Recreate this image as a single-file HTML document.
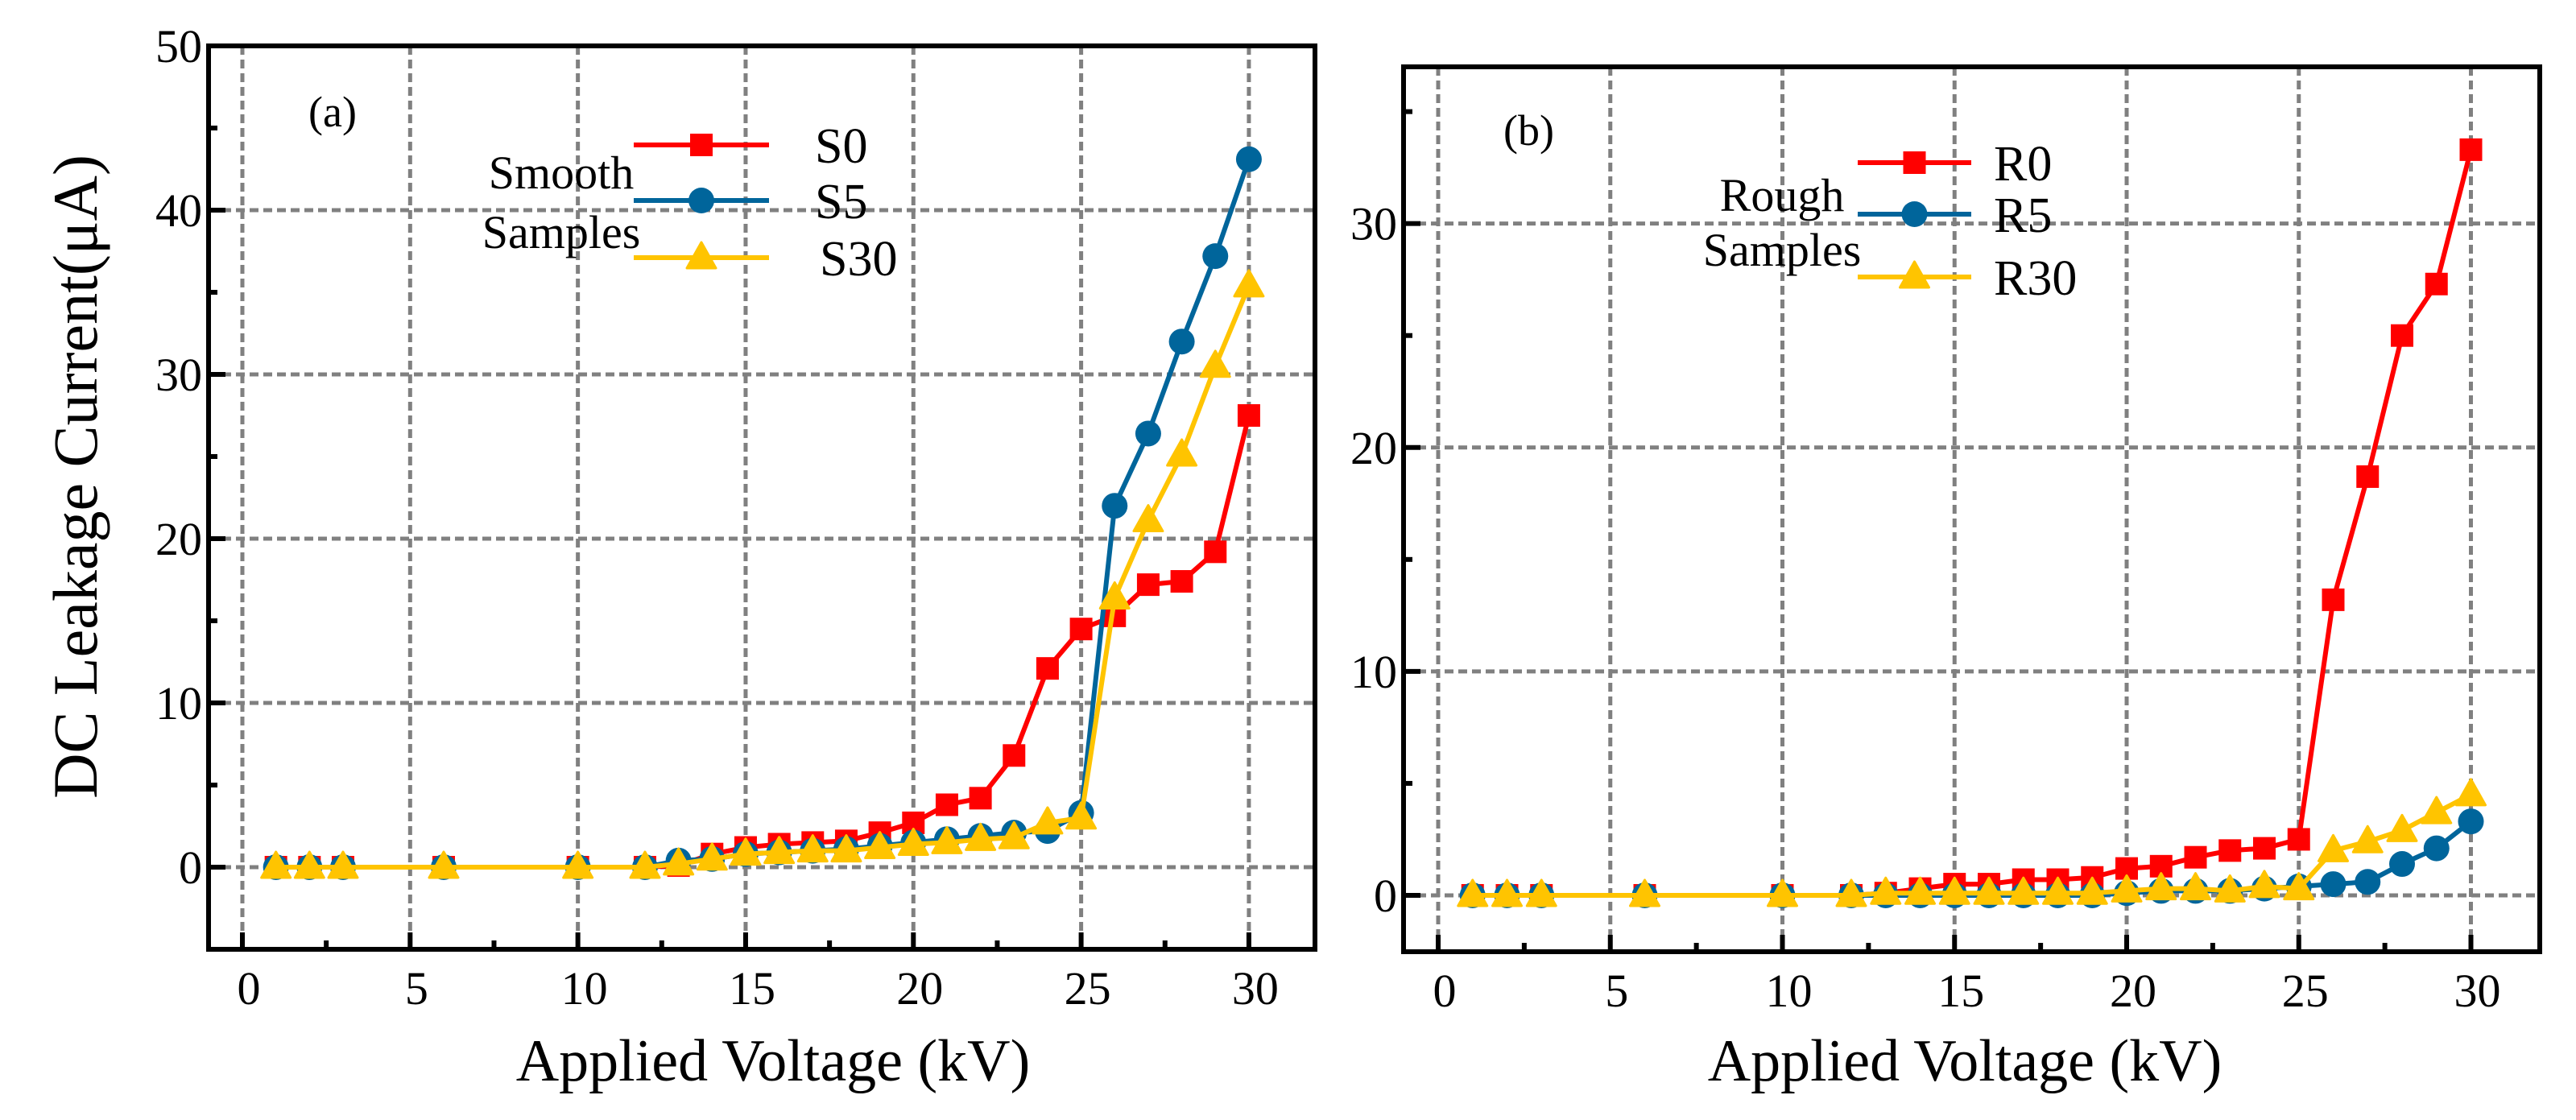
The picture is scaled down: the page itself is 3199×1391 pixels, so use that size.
<!DOCTYPE html>
<html><head><meta charset="utf-8"><style>
html,body{margin:0;padding:0;background:#fff;}
svg{display:block;}
svg text{font-family:"Liberation Serif","Times New Roman",serif;}
</style></head><body>
<svg id="chart" width="3199" height="1391" viewBox="0 0 3199 1391" xmlns="http://www.w3.org/2000/svg" font-family="Liberation Serif, serif">
<text transform="translate(120,592) rotate(-90)" text-anchor="middle" font-size="78" font-family="Liberation Serif, serif">DC Leakage Current(μA)</text>
<text x="960" y="1342" text-anchor="middle" font-size="74" font-family="Liberation Serif, serif">Applied Voltage (kV)</text>
<text x="2440" y="1342" text-anchor="middle" font-size="74" font-family="Liberation Serif, serif">Applied Voltage (kV)</text>
</svg>
<script>
const xs = [1,2,3,6,10,12,13,14,15,16,17,18,19,20,21,22,23,24,25,26,27,28,29,30];
const S0 = [0,0,0,0,0,0,0.1,0.8,1.2,1.4,1.5,1.6,2.1,2.7,3.8,4.2,6.8,12.1,14.5,15.3,17.2,17.4,19.2,27.5];
const S5 = [0,0,0,0,0,0,0.4,0.5,0.8,0.9,1.0,1.1,1.3,1.5,1.7,1.9,2.1,2.2,3.3,22.0,26.4,32.0,37.2,43.1];
const S30 = [0,0,0,0,0,0,0.2,0.5,0.8,0.9,1.0,1.0,1.2,1.4,1.5,1.7,1.8,2.7,3.0,16.4,21.1,25.1,30.5,35.4];
const R0 = [0,0,0,0,0,0,0.1,0.3,0.5,0.5,0.7,0.7,0.8,1.2,1.3,1.7,2.0,2.1,2.5,13.2,18.7,25.0,27.3,33.3];
const R5 = [0,0,0,0,0,0,0,0,0,0,0,0,0,0.1,0.2,0.2,0.2,0.3,0.4,0.5,0.6,1.4,2.1,3.3];
const R30 = [0,0,0,0,0,0,0.1,0.1,0.1,0.1,0.1,0.1,0.1,0.2,0.3,0.3,0.2,0.4,0.3,2.0,2.4,2.9,3.7,4.5];
const xTicks = [0,5,10,15,20,25,30];
const yTicksA = [0,10,20,30,40,50];
const yTicksB = [0,10,20,30];
const namesA = ["S0","S5","S30"];
const namesB = ["R0","R5","R30"];

const NS = "http://www.w3.org/2000/svg";
const svg = document.getElementById('chart');
const COL = ["#ff0000","#00659b","#ffc400"];
const FF = "Liberation Serif, serif";
function mk(tag, attrs, parent){const e=document.createElementNS(NS,tag);for(const k in attrs)e.setAttribute(k,attrs[k]);if(tag==='text')e.setAttribute('font-family',FF);(parent||svg).appendChild(e);return e;}

function panel(cfg){
  const g = mk('g',{});
  
  
  const X = v => cfg.L + (v - cfg.x0)/(cfg.x1-cfg.x0)*(cfg.R-cfg.L);
  const Y = v => cfg.B - (v - cfg.y0)/(cfg.y1-cfg.y0)*(cfg.B-cfg.T);
  xTicks.forEach(t=>{const l=mk('line',{x1:X(t),x2:X(t),y1:cfg.T,y2:cfg.B,stroke:"#808080","stroke-width":5,"stroke-dasharray":"11 6"},g);
    
    });
  cfg.yTicks.forEach(t=>{const l=mk('line',{x1:cfg.L,x2:cfg.R,y1:Y(t),y2:Y(t),stroke:"#808080","stroke-width":5,"stroke-dasharray":"11 6"},g);
    
    });
  xTicks.forEach(t=>{
    mk('line',{x1:X(t),x2:X(t),y1:cfg.B,y2:cfg.B-21,stroke:"#000","stroke-width":6},g);
    if(t<30) mk('line',{x1:X(t+2.5),x2:X(t+2.5),y1:cfg.B,y2:cfg.B-11,stroke:"#000","stroke-width":6},g);
    const tx=mk('text',{x:X(t)+8,y:cfg.B+68,"text-anchor":"middle","font-size":58},g);
    tx.textContent=t;
    
    
  });
  cfg.yTicks.forEach(t=>{
    mk('line',{x1:cfg.L,x2:cfg.L+21,y1:Y(t),y2:Y(t),stroke:"#000","stroke-width":6},g);
    if(Y(t+5)>cfg.T) mk('line',{x1:cfg.L,x2:cfg.L+11,y1:Y(t+5),y2:Y(t+5),stroke:"#000","stroke-width":6},g);
    const tx=mk('text',{x:cfg.L-8,y:Y(t)+20,"text-anchor":"end","font-size":58},g);
    tx.textContent=t;
    
    
  });
  const fr=mk('rect',{x:cfg.L,y:cfg.T,width:cfg.R-cfg.L,height:cfg.B-cfg.T,fill:"none",stroke:"#000","stroke-width":6},g);
  
  
  function marker(k,cx,cy,par){
    if(k===0) return mk('rect',{x:cx-14,y:cy-14,width:28,height:28,fill:COL[0]},par);
    if(k===1) return mk('circle',{cx:cx,cy:cy,r:16,fill:COL[1]},par);
    return mk('polygon',{points:`${cx},${cy-19} ${cx+18},${cy+13} ${cx-18},${cy+13}`,fill:COL[2],stroke:COL[2],"stroke-width":3,"stroke-linejoin":"round"},par);
  }
  cfg.series.forEach((s,k)=>{
    const sg=mk('g',{},g);
    
    
    mk('polyline',{points:xs.map((x,i)=>X(x)+','+Y(s[i])).join(' '),fill:"none",stroke:COL[k],"stroke-width":6,"stroke-linejoin":"round"},sg);
    xs.forEach((x,i)=>{const m=marker(k,X(x),Y(s[i]),sg);
      
      });
  });
  const lg=mk('g',{},g);
  
  
  cfg.names.forEach((n,k)=>{
    const y=cfg.legY[k];
    mk('line',{x1:cfg.legX0,x2:cfg.legX1,y1:y,y2:y,stroke:COL[k],"stroke-width":6},lg);
    marker(k,(cfg.legX0+cfg.legX1)/2,y,lg);
    const t=mk('text',{x:cfg.legTX[k],y:y+22,"font-size":62},lg);
    t.textContent=n;
    
    
  });
  cfg.groupText.forEach((s,i)=>{
    const t=mk('text',{x:cfg.grpX,y:cfg.grpY[i],"text-anchor":"middle","font-size":58},lg);
    t.textContent=s;
    
    
  });
  const pl=mk('text',{x:cfg.lblX,y:cfg.lblY,"font-size":54},g);
  pl.textContent=cfg.label;
  
  
}
panel({id:'panel-a',L:259,R:1633,T:57,B:1179,x0:-1.008,x1:31.97,y0:-5,y1:50,yTicks:yTicksA,
  series:[S0,S5,S30],names:namesA,legX0:787,legX1:955,legY:[180,249,320],legTX:[1012,1012,1018],
  groupText:["Smooth","Samples"],grpX:697,grpY:[234,308],label:"(a)",lblX:383,lblY:157});
panel({id:'panel-b',L:1743,R:3154,T:83,B:1182,x0:-1.006,x1:32.0,y0:-2.518,y1:37.0,yTicks:yTicksB,
  series:[R0,R5,R30],names:namesB,legX0:2307,legX1:2448,legY:[202,266,344],legTX:[2476,2476,2476],
  groupText:["Rough","Samples"],grpX:2213,grpY:[262,330],label:"(b)",lblX:1867,lblY:180});
</script>
</body></html>
